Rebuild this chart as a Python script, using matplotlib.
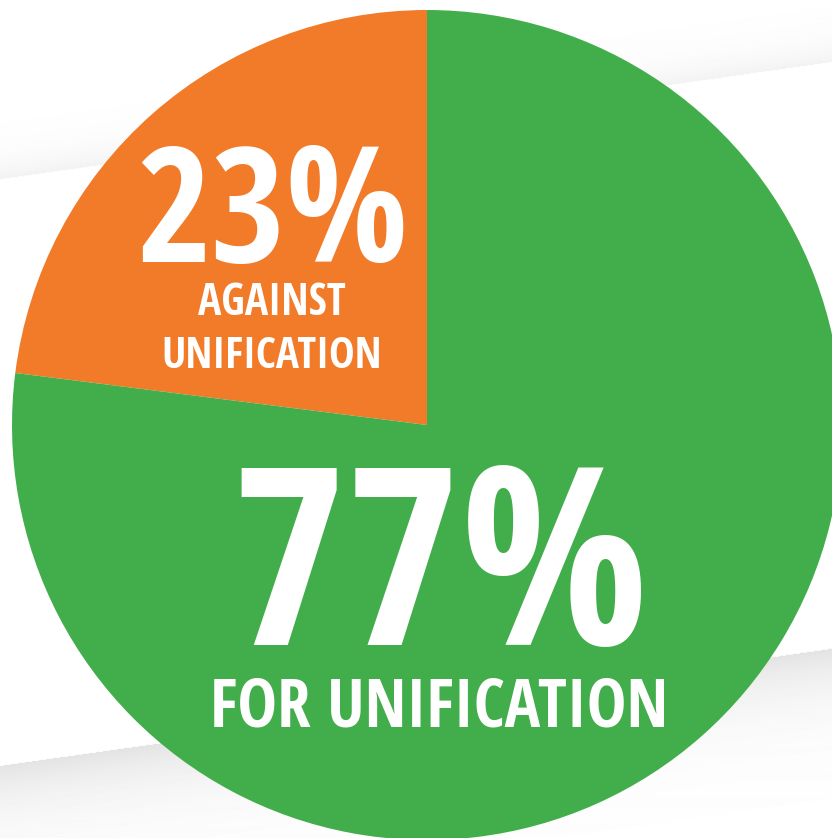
import numpy as np
import matplotlib
matplotlib.use("Agg")
import matplotlib.pyplot as plt
from matplotlib import font_manager as fm

# Data
labels = ["AGAINST\nUNIFICATION", "FOR UNIFICATION"]
values = [23, 77]
pct_labels = ["23%", "77%"]
colors = ["#F27B29", "#42AE4B"]

W, H = 832, 838
fig = plt.figure(figsize=(W / 100, H / 100), dpi=100)
ax = fig.add_axes([0, 0, 1, 1])
ax.set_xlim(0, W)
ax.set_ylim(0, H)
ax.set_aspect("equal")
ax.axis("off")

# Background with faint folded-paper shading
xx, yy = np.meshgrid(np.arange(W) + 0.5, np.arange(H) + 0.5)
bg = np.ones((H, W))
line1 = 180 + (63 - 180) * xx / W
d1 = line1 - yy
shade1 = np.where(d1 > 0, 0.05 * np.exp(-d1 / 22.0), 0)
line2 = 766 + (649 - 766) * xx / W
d2 = yy - line2
shade2 = np.where(d2 > 0, 0.11 * np.exp(-d2 / 45.0), 0)
bg = bg - shade1 - shade2
ax.imshow(bg, cmap="gray", vmin=0, vmax=1, extent=(0, W, 0, H), origin="upper",
          zorder=0, interpolation="bilinear")

# Pie
cx, cy, r = 427, H - 425, 415
ax.pie(values, colors=colors, startangle=90, counterclock=True, radius=r,
       center=(cx, cy), frame=True, wedgeprops=dict(linewidth=0, antialiased=True))
ax.set_xlim(0, W)
ax.set_ylim(0, H)
ax.axis("off")

# pick a condensed font if available
names = {f.name for f in fm.fontManager.ttflist}
cands = ["Open Sans Condensed", "Roboto Condensed", "Liberation Sans Narrow",
         "DejaVu Sans Condensed", "Noto Sans Condensed"]
fam = next((c for c in cands if c in names), None)
if fam is None:
    fam = "DejaVu Sans"
    stretch = "condensed"
else:
    stretch = "normal"

fig.canvas.draw()
renderer = fig.canvas.get_renderer()


def fit_text(x, y_px, s, cap_px, width_px):
    fs = cap_px / 0.72 * 0.72  # cap ~0.72 em; pt = px*0.72
    t = ax.text(x, H - y_px, s, fontsize=fs, color="white", fontweight="bold",
                family=[fam, "DejaVu Sans"], fontstretch=stretch,
                ha="center", va="baseline", zorder=5)
    w = t.get_window_extent(renderer).width
    if w > width_px:
        t.set_fontsize(fs * width_px / w)
    return t


fit_text(272, 262, pct_labels[0], 120, 272)
l0 = labels[0].split("\n")
fit_text(272, 315, l0[0], 33, 148)
fit_text(272, 368, l0[1], 33, 221)
fit_text(440, 645, pct_labels[1], 188, 418)
fit_text(439, 726, labels[1], 48, 458)

fig.savefig("out.png", dpi=100)
